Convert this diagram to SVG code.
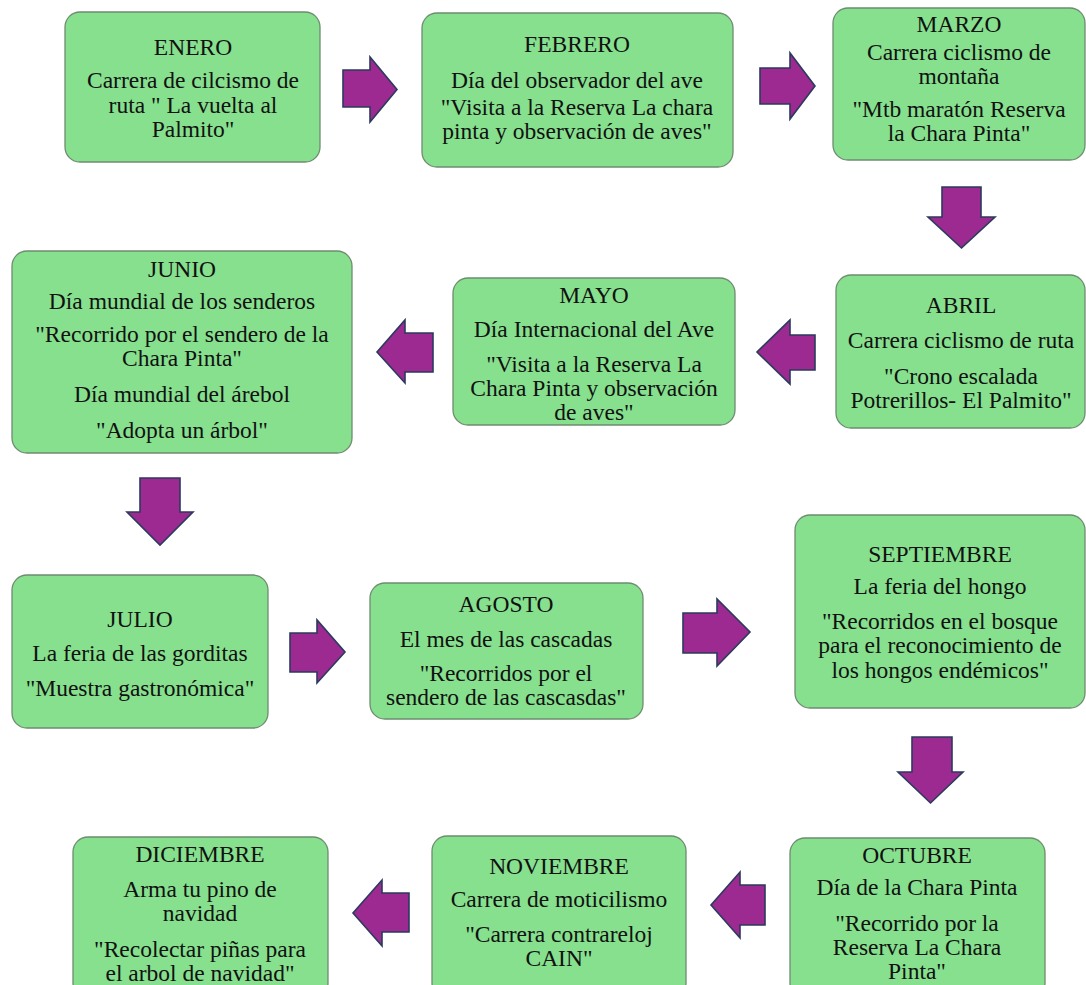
<svg xmlns="http://www.w3.org/2000/svg" width="1086" height="985" viewBox="0 0 1086 985">
<style>
.box{fill:#86E08E;stroke:#6E8C70;stroke-width:1.3}
.t{font-family:"Liberation Serif","Times New Roman",serif;font-size:23.5px;fill:#111;text-anchor:middle}
.arr{fill:#9C2A90;stroke:#2B3A5E;stroke-width:1.6;stroke-linejoin:miter}
</style>
<rect width="1086" height="985" fill="#ffffff"/>
<g id="connectors">
<polygon class="arr" points="343,70 370,70 370,57 397,89.5 370,122 370,107 343,107"/>
<polygon class="arr" points="760,68 790,68 790,53 815,86 790,119 790,104 760,104"/>
<polygon class="arr" points="942,187 981,187 981,217 995,217 961.5,248 928,217 942,217"/>
<polygon class="arr" points="815,335 790,335 790,320 757,352 790,384 790,370 815,370"/>
<polygon class="arr" points="433,333 405,333 405,320 377,352 405,383 405,372 433,372"/>
<polygon class="arr" points="140,478 180,478 180,512 193,512 160,545 127,512 140,512"/>
<polygon class="arr" points="290,633 317,633 317,620 345,652 317,683 317,672 290,672"/>
<polygon class="arr" points="683,613 717,613 717,599 750,632 717,666 717,653 683,653"/>
<polygon class="arr" points="912,737 952,737 952,772 963,772 930.5,803 898,772 912,772"/>
<polygon class="arr" points="765,885 740,885 740,872 711,905 740,938 740,925 765,925"/>
<polygon class="arr" points="409,893 382,893 382,880 353,913 382,946 382,932 409,932"/>
</g>
<g id="enero">
<rect class="box" x="65" y="12" width="255" height="150" rx="15"/>
<text class="t" x="193" y="55">ENERO</text>
<text class="t" x="193" y="88">Carrera de cilcismo de</text>
<text class="t" x="193" y="113">ruta " La vuelta al</text>
<text class="t" x="193" y="137">Palmito"</text>
</g>
<g id="febrero">
<rect class="box" x="422" y="13" width="311" height="154" rx="15"/>
<text class="t" x="577" y="52">FEBRERO</text>
<text class="t" x="577" y="88">Día del observador del ave</text>
<text class="t" x="577" y="115">"Visita a la Reserva La chara</text>
<text class="t" x="577" y="139">pinta y observación de aves"</text>
</g>
<g id="marzo">
<rect class="box" x="833" y="8" width="252" height="152" rx="15"/>
<text class="t" x="959" y="32">MARZO</text>
<text class="t" x="959" y="60">Carrera ciclismo de</text>
<text class="t" x="959" y="84">montaña</text>
<text class="t" x="959" y="117">"Mtb maratón Reserva</text>
<text class="t" x="959" y="141">la Chara Pinta"</text>
</g>
<g id="abril">
<rect class="box" x="836" y="275" width="249" height="153" rx="15"/>
<text class="t" x="961" y="313">ABRIL</text>
<text class="t" x="961" y="348">Carrera ciclismo de ruta</text>
<text class="t" x="961" y="384">"Crono escalada</text>
<text class="t" x="961" y="408">Potrerillos- El Palmito"</text>
</g>
<g id="mayo">
<rect class="box" x="453" y="278" width="282" height="147" rx="15"/>
<text class="t" x="594" y="303">MAYO</text>
<text class="t" x="594" y="337">Día Internacional del Ave</text>
<text class="t" x="594" y="372">"Visita a la Reserva La</text>
<text class="t" x="594" y="396">Chara Pinta y observación</text>
<text class="t" x="594" y="420">de aves"</text>
</g>
<g id="junio">
<rect class="box" x="12" y="251" width="340" height="202" rx="15"/>
<text class="t" x="182" y="277">JUNIO</text>
<text class="t" x="182" y="309">Día mundial de los senderos</text>
<text class="t" x="182" y="342">"Recorrido por el sendero de la</text>
<text class="t" x="182" y="366">Chara Pinta"</text>
<text class="t" x="182" y="402">Día mundial del árebol</text>
<text class="t" x="182" y="438">"Adopta un árbol"</text>
</g>
<g id="julio">
<rect class="box" x="12" y="575" width="256" height="153" rx="15"/>
<text class="t" x="140" y="627">JULIO</text>
<text class="t" x="140" y="661">La feria de las gorditas</text>
<text class="t" x="140" y="696">"Muestra gastronómica"</text>
</g>
<g id="agosto">
<rect class="box" x="370" y="583" width="273" height="136" rx="15"/>
<text class="t" x="506" y="612">AGOSTO</text>
<text class="t" x="506" y="647">El mes de las cascadas</text>
<text class="t" x="506" y="681">"Recorridos por el</text>
<text class="t" x="506" y="705">sendero de las cascasdas"</text>
</g>
<g id="septiembre">
<rect class="box" x="795" y="515" width="290" height="193" rx="15"/>
<text class="t" x="940" y="562">SEPTIEMBRE</text>
<text class="t" x="940" y="594">La feria del hongo</text>
<text class="t" x="940" y="629">"Recorridos en el bosque</text>
<text class="t" x="940" y="653">para el reconocimiento de</text>
<text class="t" x="940" y="678">los hongos endémicos"</text>
</g>
<g id="octubre">
<rect class="box" x="790" y="838" width="255" height="160" rx="15"/>
<text class="t" x="917" y="863">OCTUBRE</text>
<text class="t" x="917" y="895">Día de la Chara Pinta</text>
<text class="t" x="917" y="931">"Recorrido por la</text>
<text class="t" x="917" y="955">Reserva La Chara</text>
<text class="t" x="917" y="979">Pinta"</text>
</g>
<g id="noviembre">
<rect class="box" x="432" y="836" width="254" height="162" rx="15"/>
<text class="t" x="559" y="874">NOVIEMBRE</text>
<text class="t" x="559" y="907">Carrera de moticilismo</text>
<text class="t" x="559" y="942">"Carrera contrareloj</text>
<text class="t" x="559" y="966">CAIN"</text>
</g>
<g id="diciembre">
<rect class="box" x="73" y="837" width="255" height="161" rx="15"/>
<text class="t" x="200" y="862">DICIEMBRE</text>
<text class="t" x="200" y="897">Arma tu pino de</text>
<text class="t" x="200" y="921">navidad</text>
<text class="t" x="200" y="957">"Recolectar piñas para</text>
<text class="t" x="200" y="981">el arbol de navidad"</text>
</g>
</svg>
